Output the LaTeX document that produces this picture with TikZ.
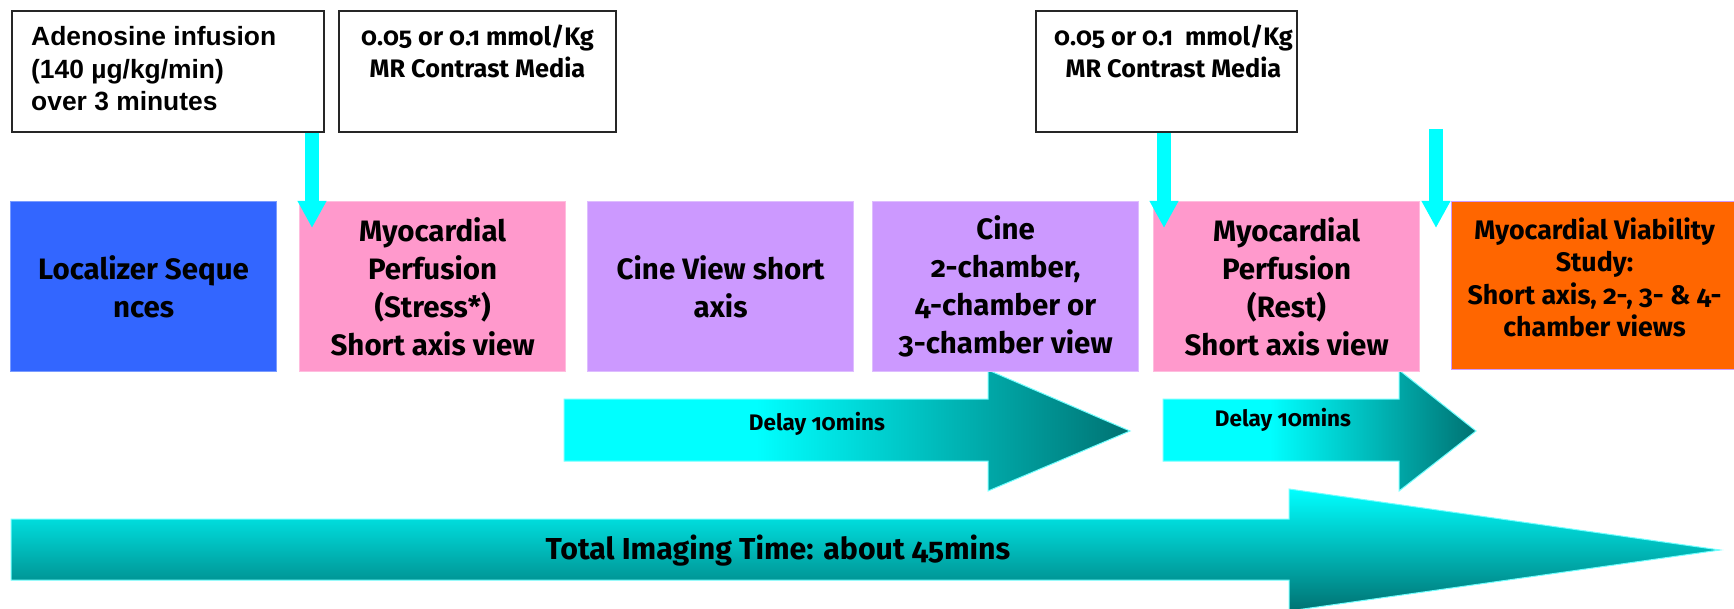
\documentclass[tikz,border=0pt]{standalone}
\usepackage{fontspec}
\setmainfont{Fira Sans}[Numbers=OldStyle]
\newfontfamily\arialfont{Liberation Sans}
\usetikzlibrary{arrows.meta}

\definecolor{aqua}{HTML}{00FFFF}
\definecolor{deepteal}{HTML}{007272}
\definecolor{stepblue}{HTML}{3366FF}
\definecolor{steppink}{HTML}{FF99CC}
\definecolor{steplilac}{HTML}{CC99FF}
\definecolor{steporange}{HTML}{FF6600}

% cyan on the left third, fading to dark teal at the tip
\pgfdeclarehorizontalshading{delayfade}{100bp}{color(0bp)=(aqua); color(25bp)=(aqua); color(42bp)=(aqua); color(75bp)=(deepteal); color(100bp)=(deepteal)}

\tikzset{
  stepbox/.style={draw=#1!65!white, fill=#1, line width=1.2pt, anchor=north west,
    minimum width=266pt, minimum height=170pt, inner sep=0pt, align=center,
    font=\fontsize{29.5}{38}\selectfont\bfseries},
  notebox/.style={draw=black!85, fill=white, line width=2pt, anchor=north west,
    minimum height=121pt, inner sep=0pt},
  notetext/.style={anchor=base, align=center, inner sep=0pt,
    font=\fontsize{25.3}{32}\selectfont\bfseries},
  dropline/.style={draw=aqua, line width=14pt, -{Triangle[width=27pt,length=27pt]}},
  delayarrow/.style={shading=delayfade, draw=aqua!55!white, line width=1pt},
  totalarrow/.style={top color=aqua, bottom color=deepteal, draw=aqua!55!white, line width=1pt},
  delaytext/.style={anchor=base, inner sep=0pt, font=\fontsize{22.5}{26}\selectfont\bfseries},
}

\begin{document}
\begin{tikzpicture}[x=1pt,y=-1pt]
\useasboundingbox (0,0) rectangle (1734,609);

% timeline arrows
\path[delayarrow] (564,399) -- (988,399) -- (988,370) -- (1130,431) -- (988,491)
  -- (988,461) -- (564,461) -- cycle;
\path[delayarrow] (1163,399) -- (1399,399) -- (1399,370) -- (1476,431) -- (1399,491)
  -- (1399,461) -- (1163,461) -- cycle;
\path[totalarrow] (11,519) -- (1289,519) -- (1289,489) -- (1720,550) -- (1289,611)
  -- (1289,580) -- (11,580) -- cycle;

\node[delaytext] (delay1) at (817,430) {Delay 10mins};
\node[delaytext] (delay2) at (1283,426) {Delay 10mins};
\node[delaytext, font=\fontsize{30.3}{34}\selectfont\bfseries] (total) at (778,559)
  {Total Imaging Time: about 45mins};

% protocol steps
\node[stepbox=stepblue] (loc) at (10,201) {Localizer Seque\\nces};
\node[stepbox=steppink] (stress) at (299,201)
  {Myocardial\\Perfusion\\(Stress*)\\Short axis view};
\node[stepbox=steplilac] (cineview) at (587,201) {Cine View short\\axis};
\node[stepbox=steplilac] (cinelong) at (872,201)
  {Cine\\2-chamber,\\4-chamber or\\3-chamber view};
\node[stepbox=steppink] (rest) at (1153,201)
  {Myocardial\\Perfusion\\(Rest)\\Short axis view};
\node[stepbox=steporange, draw=steplilac, minimum width=290pt, minimum height=168pt]
  (viab) at (1451,201) {};
\node[align=center, inner sep=0pt, font=\fontsize{26.8}{32.5}\selectfont\bfseries]
  (viabtext) at ([xshift=-2pt,yshift=8pt]viab.center)
  {Myocardial Viability\\Study:\\Short axis, 2-, 3- \& 4-\\chamber views};

% drug administration notes
\node[notebox, minimum width=312pt] (adeno) at (11,10) {};
\node[anchor=base west, align=left, inner sep=0pt,
  font=\arialfont\fontsize{26.4}{32.5}\selectfont\bfseries] (adenotext) at (31,111)
  {Adenosine infusion\\(140 µg/kg/min)\\over 3 minutes};
\node[notebox, minimum width=277pt] (dose1) at (338,10) {};
\node[notetext] (dose1text) at ([yshift=-68pt]dose1.north)
  {0.05 or 0.1 mmol/Kg\\MR Contrast Media};
\node[notebox, minimum width=261pt] (dose2) at (1035,10) {};
\node[notetext] (dose2text) at ([xshift=7pt,yshift=-68pt]dose2.north)
  {0.05 or 0.1\ \ mmol/Kg\\MR Contrast Media};

% contrast and stress agent injections
\coordinate (hit1) at (312,228);
\coordinate (hit2) at (1164,228);
\coordinate (hit3) at (1436,228);
\coordinate (start3) at (1436,129);
\draw[dropline] (adeno.south -| hit1) -- (hit1);
\draw[dropline] (dose2.south -| hit2) -- (hit2);
\draw[dropline] (start3) -- (hit3);
\end{tikzpicture}
\end{document}
